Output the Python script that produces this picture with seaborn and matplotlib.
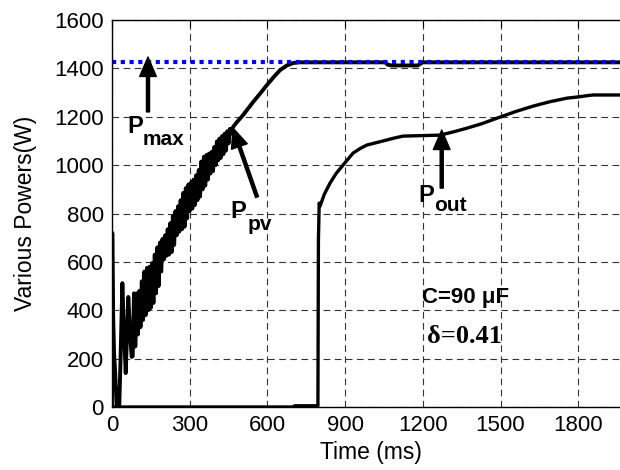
import matplotlib
matplotlib.use('Agg')
import matplotlib.pyplot as plt
import numpy as np
import pandas as pd
import seaborn as sns

# P_pv (W) over time (ms)
ppv_t = [0, 1, 4, 8, 12, 18, 28, 33, 40, 46, 53, 58, 63, 70, 76,
         80, 85, 90, 95, 100, 105, 110, 115, 120, 125, 130, 135, 140, 145,
         150, 155, 160, 165, 170, 175, 180, 185, 190, 195, 200, 205, 210,
         215, 220, 225, 230, 235, 240, 245, 250, 255, 260, 265, 270, 275,
         280, 285, 290, 295, 300, 305, 310, 315, 320, 325, 330, 335, 340,
         345, 350, 355, 360, 365, 370, 375, 380, 385, 390, 395, 400, 405,
         410, 415, 420, 425, 430, 435, 440, 445, 450, 455, 460,
         467, 480, 506, 545, 575, 598, 625, 649, 675, 699, 724,
         1055, 1065, 1080, 1180, 1192, 1200, 2000]
ppv_w = [0, 720, 400, 220, 150, 0, 0, 200, 512, 320, 140, 300, 455, 300, 207,
         210, 470, 250, 470, 300, 480, 330, 520, 360, 560, 380, 575, 400, 580,
         410, 595, 430, 630, 470, 660, 500, 680, 560, 695, 610, 710, 625,
         735, 630, 760, 640, 790, 670, 810, 710, 830, 725, 855, 735, 885,
         745, 905, 780, 920, 810, 928, 820, 940, 835, 958, 855, 980, 870,
         1015, 900, 1035, 915, 1042, 940, 1048, 965, 1055, 975, 1075, 1000, 1098,
         1020, 1110, 1030, 1120, 1045, 1130, 1060, 1140, 1090, 1150, 1130,
         1157, 1175, 1207, 1261, 1300, 1331, 1365, 1393, 1412, 1422, 1425,
         1425, 1415, 1412, 1412, 1420, 1425, 1425]

# P_out (W)
pout_t = [0, 700, 705, 795, 797, 800, 803, 820, 842, 865, 892, 931, 960,
          984, 1047, 1090, 1124, 1267, 1320, 1371, 1430, 1499, 1560, 1626,
          1690, 1757, 1800, 1840, 1858, 2000]
pout_w = [0, 0, 5, 5, 690, 843, 830, 880, 926, 965, 1000, 1050, 1070,
          1083, 1100, 1112, 1120, 1124, 1138, 1153, 1172, 1199, 1222, 1244,
          1262, 1277, 1282, 1288, 1290, 1290]

# P_max (W)
pmax_t = [0, 2000]
pmax_w = [1425, 1425]

x_ticks = [0, 300, 600, 900, 1200, 1500, 1800]
y_ticks = [0, 200, 400, 600, 800, 1000, 1200, 1400, 1600]

sns.set_style('white')
plt.rcParams['font.family'] = ['Liberation Sans', 'DejaVu Sans']
plt.rcParams['text.color'] = 'black'
plt.rcParams['axes.labelcolor'] = 'black'

fig = plt.figure(figsize=(6.2, 4.7), dpi=100)
ax = fig.add_axes([112 / 620, 63 / 470, 518 / 620, 387 / 470])

df_pv = pd.DataFrame({'t': ppv_t, 'p': ppv_w})
df_out = pd.DataFrame({'t': pout_t, 'p': pout_w})
df_max = pd.DataFrame({'t': pmax_t, 'p': pmax_w})

sns.lineplot(data=df_pv, x='t', y='p', ax=ax, color='black', lw=2.8,
             estimator=None, sort=False, solid_joinstyle='round')
sns.lineplot(data=df_out, x='t', y='p', ax=ax, color='black', lw=2.4,
             estimator=None, sort=False)
sns.lineplot(data=df_max, x='t', y='p', ax=ax, color='#0000ff', lw=3.0,
             estimator=None, sort=False, dashes=False)
ax.lines[-1].set_linestyle((0, (1, 1.1)))

ax.set_xlim(0, 2000)
ax.set_ylim(0, 1600)
ax.set_xticks(x_ticks)
ax.set_yticks(y_ticks)
ax.tick_params(direction='in', length=5, width=0.8, labelsize=16, pad=6,
               top=True, right=True, colors='black')
ax.grid(True, color='#333333', linestyle=(0, (6, 4)), linewidth=0.8)
for side in ['left', 'bottom', 'top']:
    ax.spines[side].set_color('black')
    ax.spines[side].set_linewidth(1.0)

ax.set_xlabel('Time (ms)', fontsize=16.5, labelpad=3)
ax.set_ylabel('Various Powers(W)', fontsize=16.5, labelpad=12)

arrow = dict(facecolor='black', edgecolor='black', width=2.2,
             headwidth=12, headlength=14, shrink=0)
ax.annotate('', xy=(139, 1447), xytext=(139, 1220), arrowprops=arrow)
ax.annotate('', xy=(467, 1153), xytext=(560, 868), arrowprops=arrow)
ax.annotate('', xy=(1273, 1145), xytext=(1273, 905), arrowprops=arrow)

bold = dict(fontweight='bold', color='black', va='baseline')
ax.text(58, 1133, 'P', fontsize=17, **bold)
ax.text(120, 1083, 'max', fontsize=15, **bold)
ax.text(456, 781, 'P', fontsize=17, **bold)
ax.text(525, 730, 'pv', fontsize=15, **bold)
ax.text(1182, 847, 'P', fontsize=17, **bold)
ax.text(1244, 810, 'out', fontsize=15, **bold)

ax.text(1197, 430, 'C=90 μF', fontsize=16, **bold)
ax.text(1217, 265, 'δ=0.41', fontsize=19, family='Liberation Serif', **bold)

plt.savefig('out.png', dpi=100)
